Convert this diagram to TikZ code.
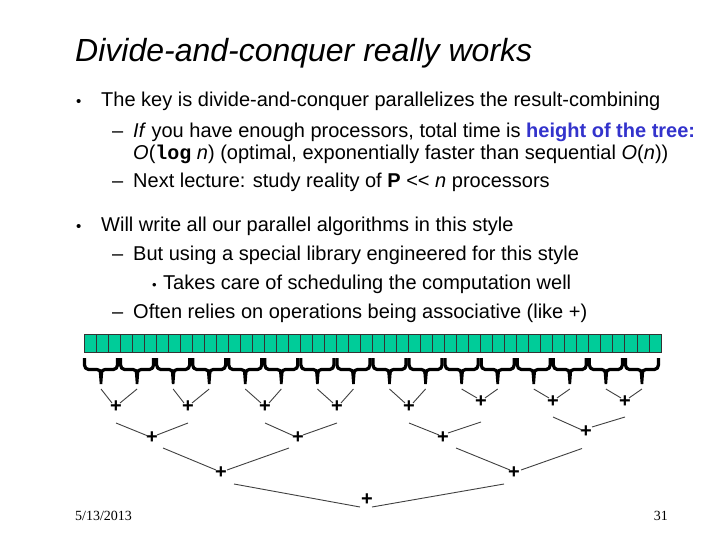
\documentclass[tikz,border=0pt]{standalone}
\usepackage{fontspec}
\setmainfont{Liberation Sans}
\newfontfamily\serifft{Liberation Serif}
\newfontfamily\monoft{Liberation Mono}
\definecolor{cellgreen}{HTML}{00CC99}
\definecolor{treeblue}{HTML}{3333CC}
\tikzset{
  txt/.style={anchor=base west, inner sep=0pt, font=\fontsize{20}{24}\selectfont},
  bul/.style={anchor=base west, inner sep=0pt, font=\fontsize{15}{18}\selectfont},
  titlestyle/.style={anchor=base west, inner sep=0pt, font=\fontsize{32}{36}\selectfont\itshape},
  foot/.style={anchor=base west, inner sep=0pt, font=\serifft\fontsize{14}{16}\selectfont},
  plus/.style={inner sep=0pt, font=\fontsize{20}{20}\selectfont\bfseries},
  conn/.style={draw=black!75, line width=0.9pt},
  cellline/.style={draw=black!80, line width=0.9pt},
  bracestroke/.style={draw=black, line width=3.2pt, line cap=butt, line join=round}
}
\begin{document}
\begin{tikzpicture}[x=1pt,y=-1pt]
\useasboundingbox (0,0) rectangle (720,540);
\fill[white] (0,0) rectangle (720,540);

% title and text
\node[titlestyle] (title) at (75,62) {Divide-and-conquer really works};
\node[bul] (b1) at (76,107) {•};
\node[txt] (l1) at (101,107) {The key is divide-and-conquer parallelizes the result-combining};
\node[txt] (d1) at (112,138) {–};
\node[txt] (l2) at (133,138) {\textit{If} you have enough processors, total time is \textcolor{treeblue}{\bfseries height of the tree:}};
\node[txt] (l3) at (133,160) {\textit{O}({\monoft\bfseries log} \textit{n}) (optimal, exponentially faster than sequential \textit{O}(\textit{n}))};
\node[txt] (d2) at (112,188) {–};
\node[txt] (l4) at (133,188) {Next lecture: study reality of \textbf{P} {<}{<} \textit{n} processors};
\node[bul] (b2) at (76,231) {•};
\node[txt] (l5) at (101,231) {Will write all our parallel algorithms in this style};
\node[txt] (d3) at (112,260) {–};
\node[txt] (l6) at (133,260) {But using a special library engineered for this style};
\node[bul, font=\fontsize{13}{15}\selectfont] (b3) at (152,289) {•};
\node[txt] (l7) at (163,289) {Takes care of scheduling the computation well};
\node[txt] (d4) at (112,318) {–};
\node[txt] (l8) at (133,318) {Often relies on operations being associative (like +)};

% footer
\node[foot] (date) at (75,520) {5/13/2013};
\node[foot, anchor=base east] (pg) at (668,520) {31};

% array of 48 cells
\fill[cellgreen] (84,334) rectangle (661,352);
\foreach \i in {1,...,47} {
  \draw[cellline] ({84+\i*12.0208},334) -- ++(0,18);
}
\draw[cellline] (84,334) rectangle (661,352);

% braces
\foreach \i in {0,...,15} {
  \pgfmathsetmacro\L{84.5+36.0625*\i}
  \pgfmathsetmacro\R{\L+33}
  \pgfmathsetmacro\C{\L+16.5}
  \draw[bracestroke] (\L,358) -- (\L,365) to[out=-90,in=180] (\L+4,369.5) -- (\C-4,369.5) to[out=0,in=90] (\C,373.5);
  \draw[bracestroke] (\R,358) -- (\R,365) to[out=-90,in=0] (\R-4,369.5) -- (\C+4,369.5) to[out=180,in=90] (\C,373.5);
  \fill[black] (\C-2.3,371) -- (\C+2.3,371) -- (\C+1.3,384) -- (\C-1.3,384) -- cycle;
  \coordinate (t\i) at (\C,389);
}

% plus nodes
\node[plus] (p1) at (116,407) {+};
\node[plus] (p2) at (188,407) {+};
\node[plus] (p3) at (265,407) {+};
\node[plus] (p4) at (337,407) {+};
\node[plus] (p5) at (409,407) {+};
\node[plus] (p6) at (481,402) {+};
\node[plus] (p7) at (553,402) {+};
\node[plus] (p8) at (625,402) {+};
\node[plus] (q1) at (152,438) {+};
\node[plus] (q2) at (298,438) {+};
\node[plus] (q3) at (443,438) {+};
\node[plus] (q4) at (586,432) {+};
\node[plus] (r1) at (221,473) {+};
\node[plus] (r2) at (514,473) {+};
\node[plus] (s) at (367,500) {+};

% level 1 connectors
\draw[conn] (t0) -- ([shift={(-4,-4)}]p1.center);
\draw[conn] (t1) -- ([shift={(4,-4)}]p1.center);
\draw[conn] (t2) -- ([shift={(-4,-4)}]p2.center);
\draw[conn] (t3) -- ([shift={(4,-4)}]p2.center);
\draw[conn] (t4) -- ([shift={(-4,-4)}]p3.center);
\draw[conn] (t5) -- ([shift={(4,-4)}]p3.center);
\draw[conn] (t6) -- ([shift={(-4,-4)}]p4.center);
\draw[conn] (t7) -- ([shift={(4,-4)}]p4.center);
\draw[conn] (t8) -- ([shift={(-4,-4)}]p5.center);
\draw[conn] (t9) -- ([shift={(4,-4)}]p5.center);
\draw[conn] (t10) -- ([shift={(-4,-4)}]p6.center);
\draw[conn] (t11) -- ([shift={(4,-4)}]p6.center);
\draw[conn] (t12) -- ([shift={(-4,-4)}]p7.center);
\draw[conn] (t13) -- ([shift={(4,-4)}]p7.center);
\draw[conn] (t14) -- ([shift={(-4,-4)}]p8.center);
\draw[conn] (t15) -- ([shift={(4,-4)}]p8.center);

% level 2 connectors
\draw[conn] ([shift={(0,16)}]p1.center) -- ([shift={(-4,-2)}]q1.center);
\draw[conn] ([shift={(0,16)}]p2.center) -- ([shift={(5,-3)}]q1.center);
\draw[conn] ([shift={(0,16)}]p3.center) -- ([shift={(-4,-2)}]q2.center);
\draw[conn] ([shift={(0,16)}]p4.center) -- ([shift={(5,-3)}]q2.center);
\draw[conn] ([shift={(0,16)}]p5.center) -- ([shift={(-4,-3)}]q3.center);
\draw[conn] ([shift={(0,20)}]p6.center) -- ([shift={(5,-5)}]q3.center);
\draw[conn] ([shift={(0,15)}]p7.center) -- ([shift={(-4,-2)}]q4.center);
\draw[conn] ([shift={(0,15)}]p8.center) -- ([shift={(6,-5)}]q4.center);

% level 3 connectors
\draw[conn] ([shift={(11,10)}]q1.center) -- ([shift={(-5,-3)}]r1.center);
\draw[conn] ([shift={(-9,10)}]q2.center) -- ([shift={(6,-3)}]r1.center);
\draw[conn] ([shift={(13,10)}]q3.center) -- ([shift={(-4,-3)}]r2.center);
\draw[conn] ([shift={(-4,16.5)}]q4.center) -- ([shift={(7,-3)}]r2.center);

% root connectors
\draw[conn] ([shift={(13,11)}]r1.center) -- ([shift={(-7,7)}]s.center);
\draw[conn] ([shift={(-10,11)}]r2.center) -- ([shift={(5,7)}]s.center);
\end{tikzpicture}
\end{document}
